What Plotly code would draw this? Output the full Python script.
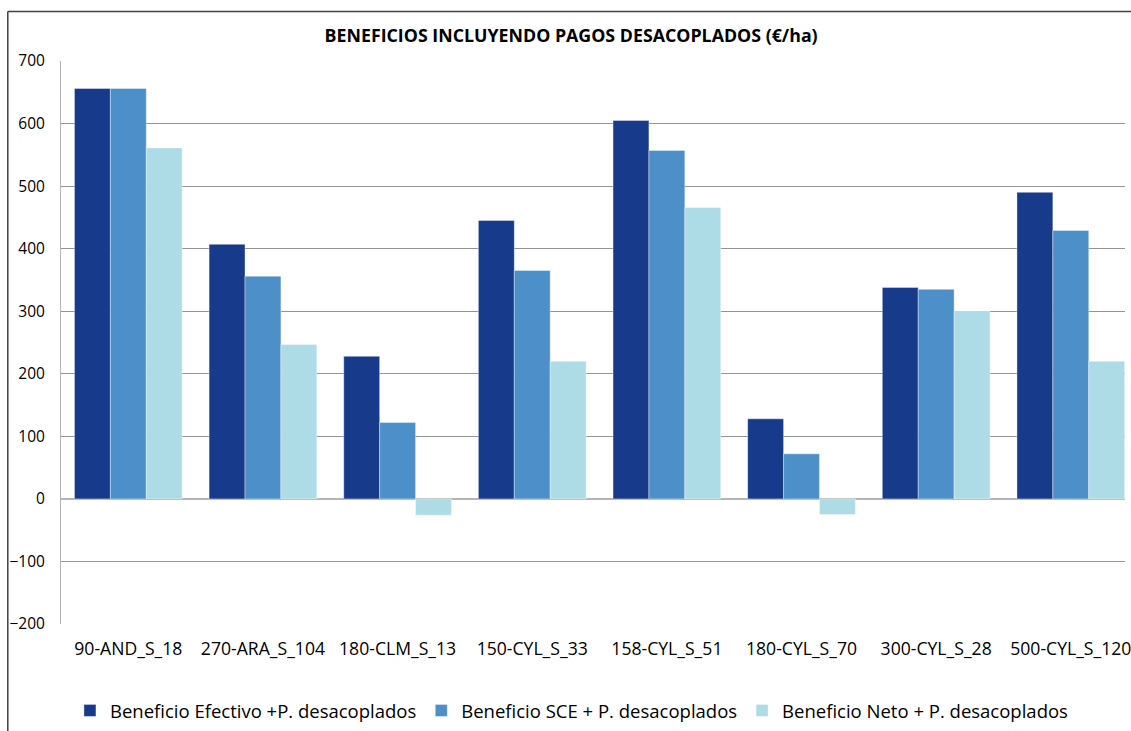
import plotly.graph_objects as go

# ---- data ----
categories = ["90-AND_S_18", "270-ARA_S_104", "180-CLM_S_13", "150-CYL_S_33",
              "158-CYL_S_51", "180-CYL_S_70", "300-CYL_S_28", "500-CYL_S_120"]
series_names = ["Beneficio Efectivo +P. desacoplados",
                "Beneficio SCE + P. desacoplados",
                "Beneficio Neto + P. desacoplados"]
beneficio_efectivo = [656, 407, 228, 445, 605, 128, 338, 490]
beneficio_sce = [656, 356, 122, 365, 557, 72, 335, 429]
beneficio_neto = [561, 247, -26, 220, 466, -25, 300, 220]
y_ticks = [-200, -100, 0, 100, 200, 300, 400, 500, 600, 700]
title_text = "BENEFICIOS INCLUYENDO PAGOS DESACOPLADOS (€/ha)"

colors = ["#183A8A", "#4D8FC9", "#ADDCE7"]
FONT = "Open Sans"

# body margin is removed by post_script, so page pixels == figure pixels
W, H = 1131, 731
plot_left, plot_right, plot_top, plot_bot = 61, 1131, 60.5, 624
L = plot_left
T = plot_top
R = W - plot_right
B = H - plot_bot
plot_w = W - L - R
plot_h = H - T - B
cat_px = 135.4
x_hi = -0.5 + plot_w / cat_px

fig = go.Figure()
for name, vals, col in zip(series_names,
                           [beneficio_efectivo, beneficio_sce, beneficio_neto],
                           colors):
    fig.add_trace(go.Bar(
        x=categories, y=vals, name=name, hoverinfo="skip",
        marker=dict(color=col, line=dict(color="rgba(255,255,255,0.55)", width=0.7)),
    ))

def px_x(px):
    return (px - L) / plot_w

def px_y(py):
    return (T + plot_h - py) / plot_h

fig.update_layout(
    width=W, height=H,
    margin=dict(l=L, r=R, t=T, b=B, pad=0),
    paper_bgcolor="white", plot_bgcolor="white",
    barmode="group", bargap=0.2, bargroupgap=0,
    hovermode=False,
    font=dict(family=FONT, size=17, color="#000000"),
    title=dict(text="<b>" + title_text + "</b>", x=px_x(574), xref="paper",
               xanchor="center", y=1 - 36 / H, yanchor="middle",
               font=dict(family=FONT, size=17.8, color="#000000")),
    showlegend=True,
    legend=dict(orientation="h", x=px_x(70), xanchor="left",
                y=px_y(711), yanchor="middle",
                font=dict(family=FONT, size=18.5, color="#000000"),
                bgcolor="rgba(0,0,0,0)", traceorder="normal"),
    xaxis=dict(type="category", range=[-0.5, x_hi], showgrid=False,
               showline=False, zeroline=False, ticks="",
               ticklabelstandoff=12, tickfont=dict(size=17.6)),
    yaxis=dict(range=[-200, 700], tickvals=y_ticks, showgrid=True,
               gridcolor="#959595", gridwidth=1,
               zeroline=True, zerolinecolor="#B5B5B5", zerolinewidth=2,
               showline=True, linecolor="#B5B5B5", linewidth=1,
               ticks="", ticklabelstandoff=12, tickfont=dict(size=15.5)),
    shapes=[
        dict(type="line", xref="paper", yref="paper",
             x0=px_x(7.5), x1=px_x(7.5), y0=px_y(11), y1=px_y(740),
             line=dict(color="#404040", width=1.5)),
        dict(type="line", xref="paper", yref="paper",
             x0=px_x(7.5), x1=px_x(1140), y0=px_y(11), y1=px_y(11),
             line=dict(color="#404040", width=1.5)),
    ],
)

fig.write_html(
    "out.html",
    config={"displayModeBar": False},
    post_script="document.body.style.margin='0';document.body.style.overflow='hidden';",
)
